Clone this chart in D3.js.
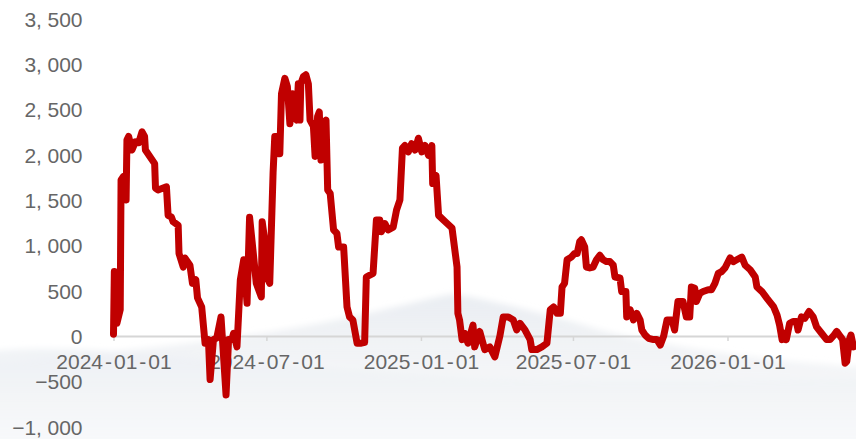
<!DOCTYPE html>
<html>
<head>
<meta charset="utf-8">
<script src="https://cdn.jsdelivr.net/npm/d3@7/dist/d3.min.js"></script>
<style>
  html, body { margin: 0; padding: 0; background: #fff; }
  svg { display: block; }
</style>
</head>
<body>
<svg id="chart" width="856" height="439"></svg>
<script>
// Daily spread series (sampled at turning points)
const dates = [
  "2024-01-01","2024-01-02","2024-01-05","2024-01-09","2024-01-10","2024-01-13","2024-01-16","2024-01-17",
  "2024-01-19","2024-01-23","2024-01-27","2024-01-31","2024-02-04","2024-02-07","2024-02-08","2024-02-19",
  "2024-02-20","2024-02-23","2024-03-04","2024-03-06","2024-03-10","2024-03-12","2024-03-18","2024-03-19",
  "2024-03-24","2024-03-26","2024-04-01","2024-04-04","2024-04-08","2024-04-10","2024-04-15","2024-04-19",
  "2024-04-23","2024-04-25","2024-04-29","2024-05-03","2024-05-08","2024-05-14","2024-05-17","2024-05-21",
  "2024-05-23","2024-05-27","2024-05-31","2024-06-04","2024-06-08","2024-06-11","2024-06-15","2024-06-19",
  "2024-06-25","2024-06-26","2024-06-29","2024-07-03","2024-07-05","2024-07-09","2024-07-11","2024-07-14",
  "2024-07-15","2024-07-17","2024-07-19","2024-07-23","2024-07-26","2024-07-29","2024-08-01","2024-08-03",
  "2024-08-06","2024-08-08","2024-08-10","2024-08-11","2024-08-14","2024-08-17","2024-08-20","2024-08-22",
  "2024-08-26","2024-08-28","2024-08-31","2024-09-02","2024-09-04","2024-09-07","2024-09-10","2024-09-12",
  "2024-09-15","2024-09-19","2024-09-23","2024-09-25","2024-10-01","2024-10-05","2024-10-08","2024-10-12",
  "2024-10-17","2024-10-22","2024-10-26","2024-10-28","2024-11-05","2024-11-09","2024-11-13","2024-11-15",
  "2024-11-19","2024-11-23","2024-11-29","2024-12-03","2024-12-07","2024-12-10","2024-12-13","2024-12-17",
  "2024-12-21","2024-12-25","2024-12-29","2025-01-02","2025-01-06","2025-01-10","2025-01-14","2025-01-15",
  "2025-01-19","2025-01-22","2025-01-30","2025-02-07","2025-02-13","2025-02-14","2025-02-16","2025-02-19",
  "2025-02-22","2025-02-26","2025-03-04","2025-03-06","2025-03-12","2025-03-18","2025-03-24","2025-03-30",
  "2025-04-05","2025-04-09","2025-04-15","2025-04-21","2025-04-25","2025-04-29","2025-05-05","2025-05-11",
  "2025-05-13","2025-05-19","2025-05-25","2025-05-31","2025-06-04","2025-06-08","2025-06-12","2025-06-16",
  "2025-06-18","2025-06-21","2025-06-24","2025-06-29","2025-07-03","2025-07-06","2025-07-09","2025-07-11",
  "2025-07-15","2025-07-17","2025-07-21","2025-07-25","2025-07-29","2025-08-02","2025-08-06","2025-08-10",
  "2025-08-14","2025-08-18","2025-08-20","2025-08-26","2025-08-28","2025-09-02","2025-09-03","2025-09-07",
  "2025-09-11","2025-09-15","2025-09-19","2025-09-21","2025-09-25","2025-09-29","2025-10-05","2025-10-09",
  "2025-10-13","2025-10-17","2025-10-21","2025-10-27","2025-10-30","2025-11-03","2025-11-09","2025-11-13",
  "2025-11-17","2025-11-19","2025-11-23","2025-11-25","2025-11-29","2025-12-03","2025-12-09","2025-12-13",
  "2025-12-17","2025-12-21","2025-12-25","2025-12-29","2026-01-04","2026-01-08","2026-01-12","2026-01-18",
  "2026-01-22","2026-01-28","2026-02-03","2026-02-05","2026-02-11","2026-02-17","2026-02-25","2026-03-01",
  "2026-03-04","2026-03-07","2026-03-10","2026-03-12","2026-03-16","2026-03-20","2026-03-24","2026-03-26",
  "2026-03-30","2026-04-03","2026-04-08","2026-04-13","2026-04-17","2026-04-23","2026-04-29","2026-05-03",
  "2026-05-07","2026-05-11","2026-05-15","2026-05-18","2026-05-21","2026-05-23","2026-05-26","2026-05-28",
  "2026-05-31"
];
const values = [
  20, 710, 140, 290, 1720, 1760, 1500, 2160,
  2200, 2050, 2140, 2130, 2250, 2200, 2050, 1900,
  1630, 1610, 1645, 1330, 1310, 1260, 1220, 910,
  760, 860, 780, 580, 620, 420, 320, -80,
  -40, -480, -40, -20, 210, -650, -40, -40,
  30, -120, 620, 840, 360, 1310, 950, 580,
  430, 1260, 1060, 620, 580, 1800, 2200, 2200,
  2010, 2010, 2670, 2840, 2750, 2340, 2670, 2420,
  2380, 2780, 2380, 2780, 2860, 2880, 2780, 2380,
  2310, 1980, 2420, 2470, 1940, 2340, 2380, 1610,
  1570, 1170, 1130, 980, 980, 320, 210, 176,
  -80, -80, -70, 650, 690, 1280, 1280, 1150,
  1240, 1170, 1200, 1390, 1500, 2070, 2100, 2030,
  2120, 2050, 2180, 2030, 2100, 1990, 2100, 1680,
  1770, 1330, 1260, 1190, 760, 250, 176, -40,
  30, -80, 120, -120, 50, -150, -120, -230,
  0, 210, 210, 176, 66, 140, 66, -40,
  -150, -150, -120, -80, 290, 320, 250, 250,
  540, 580, 840, 870, 910, 910, 1040, 1060,
  980, 760, 750, 760, 840, 890, 840, 820,
  820, 780, 650, 640, 490, 490, 210, 290,
  176, 250, 176, 66, 10, -25, -40, -40,
  -100, 0, 176, 176, 66, 380, 380, 210,
  210, 540, 525, 380, 470, 490, 510, 510,
  580, 690, 710, 750, 860, 820, 840, 870,
  780, 730, 650, 540, 490, 415, 320, 230,
  120, -40, 30, -40, 140, 160, 160, 66,
  210, 195, 270, 210, 100, 30, -40, -40,
  0, 50, 0, -40, -300, -280, -40, 10,
  -120
];
const xTickLabels = ["2024-01-01","2024-07-01","2025-01-01","2025-07-01","2026-01-01"];
const yTickLabels = [-1000, -500, 0, 500, 1000, 1500, 2000, 2500, 3000, 3500];

const parse = d3.timeParse("%Y-%m-%d");
const series = dates.map((d, i) => ({ date: parse(d), value: values[i] }));

const svg = d3.select("#chart");
const plotLeft = 113.5, plotRight = 853.5, plotTop = 18.5, plotBottom = 426.7;

const x = d3.scaleTime()
  .domain([parse("2024-01-01"), parse("2026-05-31")])
  .range([plotLeft, plotRight]);
const y = d3.scaleLinear()
  .domain([-1000, 3500])
  .range([plotBottom, plotTop]);

// Faint, soft mountain backdrop
const defs = svg.append("defs");
defs.append("filter").attr("id", "soft")
  .attr("x", "-10%").attr("y", "-30%").attr("width", "120%").attr("height", "160%")
  .append("feGaussianBlur").attr("stdDeviation", 3);
const g1 = defs.append("linearGradient").attr("id", "hill").attr("x1", 0).attr("y1", 0).attr("x2", 0).attr("y2", 1);
g1.append("stop").attr("offset", "0%").attr("stop-color", "#e6eaef").attr("stop-opacity", 0.85);
g1.append("stop").attr("offset", "55%").attr("stop-color", "#f0f2f5").attr("stop-opacity", 0.65);
g1.append("stop").attr("offset", "100%").attr("stop-color", "#fafbfc").attr("stop-opacity", 0.4);
const g2 = defs.append("linearGradient").attr("id", "haze").attr("x1", 0).attr("y1", 0).attr("x2", 0).attr("y2", 1);
g2.append("stop").attr("offset", "0%").attr("stop-color", "#edf0f4").attr("stop-opacity", 0.85);
g2.append("stop").attr("offset", "100%").attr("stop-color", "#f7f8fa").attr("stop-opacity", 0.5);

const backdrop = svg.append("g").attr("class", "backdrop").attr("filter", "url(#soft)");
backdrop.append("path")
  .attr("d", "M-20,364 C120,352 260,338 360,315 C400,306 430,298 453,294 C490,300 540,312 600,330 C680,350 780,362 876,368 L876,460 L-20,460 Z")
  .attr("fill", "url(#hill)");
backdrop.append("path")
  .attr("d", "M-20,352 C50,346 100,350 180,357 C280,366 380,372 480,378 C600,382 740,380 876,378 L876,460 L-20,460 Z")
  .attr("fill", "url(#haze)");

const font = "'Liberation Sans', Arial, sans-serif";

// Y axis: labels only
const fmt = d3.format(",");
const yAxis = svg.append("g")
  .attr("transform", `translate(${plotLeft},0)`)
  .call(d3.axisLeft(y).tickValues(yTickLabels).tickSize(0).tickPadding(31).tickFormat(fmt));
yAxis.select(".domain").remove();
yAxis.selectAll("text")
  .attr("font-family", font)
  .attr("font-size", 21)
  .attr("fill", "#666")
  .attr("dy", "0.36em")
  .each(function(d) {
    const parts = fmt(d).split(",");
    if (parts.length > 1) {
      const t = d3.select(this).text(null);
      t.append("tspan").text(parts[0] + ",");
      t.append("tspan").attr("dx", 5.5).text(parts[1]);
    }
  });

// X axis along the zero line
const xAxis = svg.append("g")
  .attr("transform", `translate(0,${y(0)})`)
  .call(d3.axisBottom(x)
    .tickValues(xTickLabels.map(parse))
    .tickSize(5).tickSizeOuter(0).tickPadding(13)
    .tickFormat(d3.timeFormat("%Y-%m-%d")));
xAxis.select(".domain").attr("stroke", "#d6d6d6").attr("stroke-width", 2);
xAxis.selectAll(".tick line").attr("stroke", "#d6d6d6").attr("stroke-width", 1.5);
xAxis.selectAll("text")
  .attr("font-family", font)
  .attr("font-size", 21)
  .attr("fill", "#666")
  .each(function() {
    const parts = d3.select(this).text().split("-");
    const t = d3.select(this).text(null);
    parts.forEach((p, i) => {
      if (i > 0) t.append("tspan").attr("dx", 2).text("-");
      t.append("tspan").attr("dx", i > 0 ? 2 : 0).text(p);
    });
  });

// Series line
const line = d3.line()
  .x(d => x(d.date))
  .y(d => y(d.value));
svg.append("path")
  .datum(series)
  .attr("fill", "none")
  .attr("stroke", "#c00000")
  .attr("stroke-width", 7)
  .attr("stroke-linejoin", "round")
  .attr("stroke-linecap", "round")
  .attr("d", line);
</script>
</body>
</html>
